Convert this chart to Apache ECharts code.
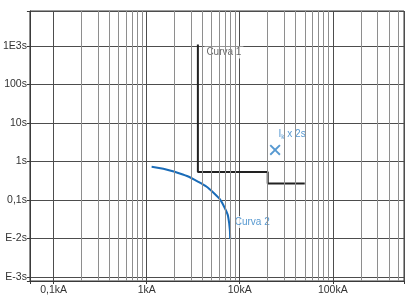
<!DOCTYPE html>
<html>
<head>
<meta charset="utf-8">
<script src="https://cdn.jsdelivr.net/npm/echarts@6/dist/echarts.min.js"></script>
<style>
html, body { margin: 0; padding: 0; background: #fff; }
#chart { width: 407px; height: 296px; }
</style>
</head>
<body>
<div id="chart"></div>
<script>
// axis ranges (kA / s), log scale
var xMin = 0.0556, xMax = 583;
var yMin = 0.000787, yMax = 8100;

var xTickValues = [0.1, 1, 10, 100];
var xTickLabels = ['0,1kA', '1kA', '10kA', '100kA'];
var yTickValues = [0.001, 0.01, 0.1, 1, 10, 100, 1000];
var yTickLabels = ['E-3s', 'E-2s', '0,1s', '1s', '10s', '100s', '1E3s'];

// minor vertical grid 2..9 per decade
var gridDecades = [0.1, 1, 10, 100];
var gridSteps = [2, 3, 4, 5, 6, 7, 8, 9];

// Curva 1
var curva1Current = [3.55, 3.55, 20, 20, 50];
var curva1Time = [1100, 0.53, 0.53, 0.27, 0.27];

// Curva 2
var curva2Current = [1.13, 2.0, 3.55, 5.3, 6.8, 7.7, 7.9];
var curva2Time = [0.73, 0.54, 0.30, 0.149, 0.067, 0.025, 0.0097];

// Ik x 2s
var ikCurrent = 24;
var ikTime = 2;

var minorX = [];
gridDecades.forEach(function (d) {
    gridSteps.forEach(function (s) {
        if (d * s < xMax) minorX.push(d * s);
    });
});

function tickLabel(values, labels) {
    return function (v) {
        for (var i = 0; i < values.length; i++) {
            if (Math.abs(Math.log10(v) - Math.log10(values[i])) < 1e-6) return labels[i];
        }
        return '';
    };
}

function pairs(xs, ys) {
    return xs.map(function (x, i) { return [x, ys[i]]; });
}

var blue = '#1a6cb8';
var labelBlue = '#2d7fc6';
var font = 'Liberation Sans, Arial, sans-serif';

var chart = echarts.init(document.getElementById('chart'));
chart.setOption({
    animation: false,
    grid: {
        left: 27,
        right: 2,
        top: 11,
        bottom: 15,
        show: true,
        borderColor: '#3a3a3a',
        borderWidth: 1
    },
    xAxis: {
        type: 'log',
        min: xMin,
        max: xMax,
        splitNumber: 4,
        axisLine: { show: true, lineStyle: { color: '#3a3a3a', width: 1 } },
        axisTick: { show: true, length: 3, lineStyle: { color: '#3a3a3a' } },
        axisLabel: {
            margin: 4,
            color: '#333',
            fontSize: 10.5,
            fontFamily: font,
            formatter: tickLabel(xTickValues, xTickLabels)
        },
        splitLine: { show: true, lineStyle: { color: '#4d4d4d', width: 1 } }
    },
    yAxis: {
        type: 'log',
        min: yMin,
        max: yMax,
        splitNumber: 7,
        axisLine: { show: true, lineStyle: { color: '#3a3a3a', width: 1 } },
        axisTick: { show: true, length: 3, lineStyle: { color: '#3a3a3a' } },
        axisLabel: {
            margin: 3,
            color: '#333',
            fontSize: 10.5,
            fontFamily: font,
            formatter: tickLabel(yTickValues, yTickLabels)
        },
        splitLine: { show: true, lineStyle: { color: '#4d4d4d', width: 1 } }
    },
    series: [
        {
            // minor vertical grid lines
            type: 'line',
            z: 1,
            silent: true,
            symbol: 'none',
            lineStyle: { width: 0 },
            data: [[xMax, yMax]],
            markLine: {
                silent: true,
                symbol: ['none', 'none'],
                label: { show: false },
                lineStyle: { type: 'solid', color: '#8e8e8e', width: 1 },
                emphasis: { disabled: true },
                animation: false,
                data: minorX.map(function (v) { return { xAxis: v }; })
            }
        },
        {
            name: 'Curva 1',
            type: 'line',
            z: 3,
            symbol: 'none',
            lineStyle: { color: '#222', width: 2 },
            data: pairs(curva1Current, curva1Time)
        },
        {
            name: 'Curva 2',
            type: 'line',
            z: 3,
            symbol: 'none',
            smooth: 0.5,
            lineStyle: { color: blue, width: 2 },
            data: pairs(curva2Current, curva2Time)
        },
        {
            // Ik x 2s marker
            type: 'scatter',
            z: 4,
            symbol: 'path://M0,1.2L1.2,0L5,3.8L8.8,0L10,1.2L6.2,5L10,8.8L8.8,10L5,6.2L1.2,10L0,8.8L3.8,5Z',
            symbolSize: 11,
            itemStyle: { color: labelBlue },
            label: {
                show: true,
                position: 'top',
                distance: 3,
                offset: [17, 0],
                backgroundColor: '#fff',
                padding: [1, 1],
                formatter: '{a|I}{b|k}{a| x 2s}',
                rich: {
                    a: { color: labelBlue, fontSize: 10, fontFamily: font },
                    b: { color: labelBlue, fontSize: 6.5, fontFamily: font, padding: [5, 0, 0, 0] }
                }
            },
            data: [[ikCurrent, ikTime]]
        },
        {
            // curve labels
            type: 'scatter',
            z: 4,
            symbolSize: 1,
            itemStyle: { color: 'rgba(0,0,0,0)' },
            silent: true,
            data: [
                {
                    value: [curva1Current[0], curva1Time[0]],
                    label: {
                        show: true, position: 'right', distance: 5, offset: [1, 8],
                        formatter: 'Curva 1', color: '#444', fontSize: 10, fontFamily: font,
                        backgroundColor: '#fff', padding: [1, 2]
                    }
                },
                {
                    value: [curva2Current[curva2Current.length - 1], curva2Time[curva2Time.length - 1]],
                    label: {
                        show: true, position: 'right', distance: 2, offset: [0, -17],
                        formatter: 'Curva 2', color: labelBlue, fontSize: 10, fontFamily: font,
                        backgroundColor: '#fff', padding: [1, 2]
                    }
                }
            ]
        }
    ]
});
</script>
</body>
</html>
